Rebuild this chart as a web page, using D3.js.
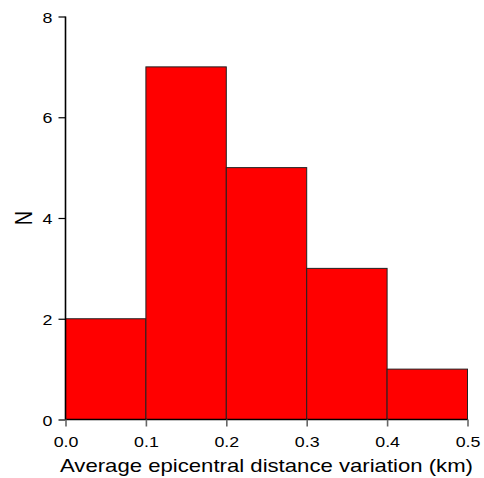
<!DOCTYPE html>
<html><head><meta charset="utf-8">
<script src="https://cdn.jsdelivr.net/npm/d3@7"></script>
<style>body{margin:0;background:#fff}svg{display:block}text{font-family:"Liberation Sans",Arial,sans-serif;fill:#000}</style>
</head><body>
<script>
const binStarts = [0.0, 0.1, 0.2, 0.3, 0.4];
const binWidth = 0.1;
const counts = [2, 7, 5, 3, 1];
const xTicks = [0.0, 0.1, 0.2, 0.3, 0.4, 0.5];
const yTicks = [0, 2, 4, 6, 8];
const xLabel = "Average epicentral distance variation (km)";
const yLabel = "N";

const W = 484, H = 478;
const SX = 1.15;
const svg = d3.select("body").append("svg").attr("width", W).attr("height", H);
const x = d3.scaleLinear().domain([0, 0.5]).range([65.5, 467.5]);
const y = d3.scaleLinear().domain([0, 8]).range([419.5, 16.5]);

svg.selectAll("rect.bar").data(counts).enter().append("rect")
  .attr("class", "bar")
  .attr("x", (d, i) => x(binStarts[i]))
  .attr("width", (d, i) => x(binStarts[i] + binWidth) - x(binStarts[i]))
  .attr("y", d => y(d))
  .attr("height", d => y(0) - y(d))
  .attr("fill", "#ff0000").attr("stroke", "#222").attr("stroke-width", 1);

const yAxis = svg.append("g").attr("transform", `translate(${x(0)},0)`)
  .call(d3.axisLeft(y).tickValues(yTicks).tickFormat(d3.format("d")).tickSize(7).tickPadding(6));
yAxis.select(".domain").attr("stroke", "#000").attr("stroke-width", 1.6).attr("d", `M0,${y(8)}V${y(0)}`);
yAxis.selectAll(".tick line").attr("stroke", "#000").attr("stroke-width", 1.2);
yAxis.selectAll("text").style("font-size", "15.5px").attr("fill", "#000")
  .attr("transform", `translate(-13,0) scale(${SX},1) translate(13,0)`).attr("dy", "0.36em");

const xAxis = svg.append("g").attr("transform", `translate(0,${y(0)})`)
  .call(d3.axisBottom(x).tickValues(xTicks).tickFormat(d3.format(".1f")).tickSize(7).tickPadding(10));
xAxis.select(".domain").attr("stroke", "#000").attr("stroke-width", 1.6).attr("d", `M${x(0)},0H${x(0.5)}`);
xAxis.selectAll(".tick line").attr("stroke", "#666").attr("stroke-width", 1.6);
xAxis.selectAll("text").style("font-size", "15.5px").attr("fill", "#000")
  .attr("transform", `scale(${SX},1)`);

svg.append("text").attr("x", 266.5).attr("y", 472)
  .attr("text-anchor", "middle").style("font-size", "19px")
  .attr("textLength", 413).attr("lengthAdjust", "spacingAndGlyphs").text(xLabel);
svg.append("text").attr("transform", `translate(31.5,218) scale(1.17,1) rotate(-90)`)
  .attr("text-anchor", "middle").style("font-size", "20px").text(yLabel);
</script>
</body></html>
